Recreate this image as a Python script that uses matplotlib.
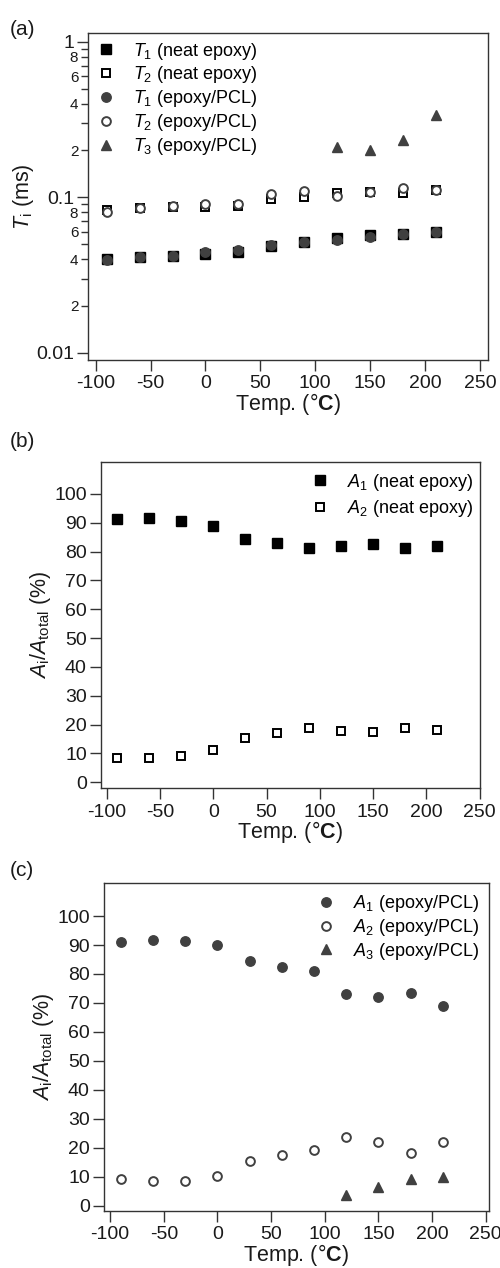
import matplotlib
matplotlib.use("Agg")
import matplotlib.pyplot as plt
from matplotlib.ticker import FixedLocator, FuncFormatter
import numpy as np

plt.rcParams['font.family'] = ['Liberation Sans', 'DejaVu Sans']
plt.rcParams['mathtext.fontset'] = 'custom'
plt.rcParams['mathtext.rm'] = 'Liberation Sans'
plt.rcParams['mathtext.it'] = 'Liberation Sans:italic'
plt.rcParams['mathtext.bf'] = 'Liberation Sans:bold'

# ---- data ----
temps = [-90, -60, -30, 0, 30, 60, 90, 120, 150, 180, 210]
temps_t3 = [120, 150, 180, 210]

T1_neat = [0.0400, 0.0410, 0.0418, 0.0431, 0.0448, 0.0488, 0.0512, 0.0549, 0.0574, 0.0580, 0.0594]
T2_neat = [0.0827, 0.0848, 0.0860, 0.0870, 0.0878, 0.0968, 0.1000, 0.1070, 0.1080, 0.1070, 0.1110]
T1_pcl = [0.0396, 0.0410, 0.0418, 0.0443, 0.0458, 0.0490, 0.0512, 0.0530, 0.0555, 0.0580, 0.0594]
T2_pcl = [0.0803, 0.0848, 0.0878, 0.0904, 0.0910, 0.1048, 0.1100, 0.1020, 0.1080, 0.1146, 0.1110]
T3_pcl = [0.211, 0.201, 0.233, 0.336]

A1_neat = [91.4, 91.6, 90.8, 88.8, 84.4, 83.1, 81.3, 82.1, 82.7, 81.4, 81.8]
A2_neat = [8.6, 8.3, 9.2, 11.1, 15.5, 17.0, 18.8, 17.9, 17.3, 18.7, 18.2]

A1_pcl = [91.1, 91.7, 91.5, 89.9, 84.6, 82.5, 81.0, 73.0, 72.0, 73.4, 68.8]
A2_pcl = [9.1, 8.4, 8.7, 10.4, 15.5, 17.6, 19.3, 23.9, 22.1, 18.3, 22.0]
A3_pcl = [3.8, 6.6, 9.1, 10.0]

xticks = [-100, -50, 0, 50, 100, 150, 200, 250]
aticks = [0, 10, 20, 30, 40, 50, 60, 70, 80, 90, 100]

BLACK = '#000000'
GRAY = '#404040'
TXT = '#1a1a1a'
MS = 6.8
MEW = 1.4
FS = 14
LFS = 13
XLFS = 15.5

fig = plt.figure(figsize=(5.0, 12.68), dpi=100)

xlabel = r'Temp. ($\degree$$\mathbf{C}$)'

def style_axes(ax):
    for s in ax.spines.values():
        s.set_linewidth(1.0)
        s.set_color('#333333')
    ax.tick_params(axis='both', which='major', direction='out', length=8, width=1.0,
                   labelsize=FS, color='#333333', labelcolor=TXT)
    ax.tick_params(axis='x', which='major', pad=3)
    ax.tick_params(axis='y', which='major', pad=2)
    ax.set_xticks(xticks)
    ax.set_xticklabels([str(t) for t in xticks])
    ax.set_xlabel(xlabel, fontsize=XLFS, labelpad=-1, color=TXT)

# ---------------- (a) ----------------
axa = fig.add_axes([0.176, 0.716, 0.800, 0.2577])
axa.set_yscale('log')
axa.plot(temps, T1_neat, ls='none', marker='s', ms=MS, color=BLACK, mec=BLACK,
         label=r'$T_1$ (neat epoxy)')
axa.plot(temps, T2_neat, ls='none', marker='s', ms=MS - 0.5, mfc='white', mec=BLACK, mew=MEW,
         label=r'$T_2$ (neat epoxy)')
axa.plot(temps, T1_pcl, ls='none', marker='o', ms=MS, color=GRAY, mec=GRAY,
         label=r'$T_1$ (epoxy/PCL)')
axa.plot(temps, T2_pcl, ls='none', marker='o', ms=MS - 0.5, mfc='white', mec=GRAY, mew=MEW,
         label=r'$T_2$ (epoxy/PCL)')
axa.plot(temps_t3, T3_pcl, ls='none', marker='^', ms=MS + 1, color=GRAY, mec=GRAY,
         label=r'$T_3$ (epoxy/PCL)')
axa.set_xlim(-107, 257.3)
axa.set_ylim(10 ** -2.047, 10 ** 0.054)
axa.yaxis.set_major_locator(FixedLocator([0.01, 0.1, 1]))
axa.yaxis.set_major_formatter(FuncFormatter(lambda v, p: {0.01: '0.01', 0.1: '0.1', 1: '1'}.get(round(v, 4), '')))
minors = [m * d for d in (0.01, 0.1) for m in range(2, 10)]
axa.yaxis.set_minor_locator(FixedLocator(minors))

def minor_fmt(v, p):
    lead = int(round(v / (10 ** np.floor(np.log10(v) + 1e-9))))
    return str(lead) if lead in (2, 4, 6, 8) else ''

axa.yaxis.set_minor_formatter(FuncFormatter(minor_fmt))
style_axes(axa)
axa.tick_params(axis='y', which='minor', direction='out', length=5, width=1.0,
                labelsize=11, color='#333333', labelcolor=TXT, pad=2)
axa.set_ylabel(r'$T_\mathrm{i}$ (ms)', fontsize=XLFS, labelpad=0, color=TXT)
axa.legend(loc='upper left', frameon=False, fontsize=LFS, handletextpad=0.9,
           labelspacing=0.16, borderaxespad=0.1, handlelength=1.2, borderpad=0.3)
fig.text(0.02, 0.984, '(a)', fontsize=FS + 1, va='top', ha='left', color=TXT)

# ---------------- (b) ----------------
axb = fig.add_axes([0.2013, 0.3783, 0.7587, 0.2576])
axb.plot(temps, A1_neat, ls='none', marker='s', ms=MS, color=BLACK, mec=BLACK,
         label=r'$A_1$ (neat epoxy)')
axb.plot(temps, A2_neat, ls='none', marker='s', ms=MS - 0.5, mfc='white', mec=BLACK, mew=MEW,
         label=r'$A_2$ (neat epoxy)')
axb.set_xlim(-105.6, 250.3)
axb.set_ylim(-2.08, 111.2)
axb.set_yticks(aticks)
style_axes(axb)
axb.set_ylabel(r'$A_\mathrm{i}/A_\mathrm{total}$ (%)', fontsize=XLFS, labelpad=1, color=TXT)
axb.legend(loc='upper right', frameon=False, fontsize=LFS, handletextpad=0.9,
           labelspacing=0.3, borderaxespad=0.0, handlelength=1.2, borderpad=0.55,
           bbox_to_anchor=(1.01, 1.0))
fig.text(0.02, 0.659, '(b)', fontsize=FS + 1, va='top', ha='left', color=TXT)

# ---------------- (c) ----------------
axc = fig.add_axes([0.2073, 0.0452, 0.7707, 0.2582])
axc.plot(temps, A1_pcl, ls='none', marker='o', ms=MS, color=GRAY, mec=GRAY,
         label=r'$A_1$ (epoxy/PCL)')
axc.plot(temps, A2_pcl, ls='none', marker='o', ms=MS - 0.5, mfc='white', mec=GRAY, mew=MEW,
         label=r'$A_2$ (epoxy/PCL)')
axc.plot(temps_t3, A3_pcl, ls='none', marker='^', ms=MS, color=GRAY, mec=GRAY,
         label=r'$A_3$ (epoxy/PCL)')
axc.set_xlim(-106, 253)
axc.set_ylim(-1.7, 111.3)
axc.set_yticks(aticks)
style_axes(axc)
axc.set_ylabel(r'$A_\mathrm{i}/A_\mathrm{total}$ (%)', fontsize=XLFS, labelpad=1, color=TXT)
axc.legend(loc='upper right', frameon=False, fontsize=LFS, handletextpad=0.9,
           labelspacing=0.15, borderaxespad=0.0, handlelength=1.2, borderpad=0.55)
fig.text(0.02, 0.321, '(c)', fontsize=FS + 1, va='top', ha='left', color=TXT)

fig.savefig('out.png', dpi=100)
